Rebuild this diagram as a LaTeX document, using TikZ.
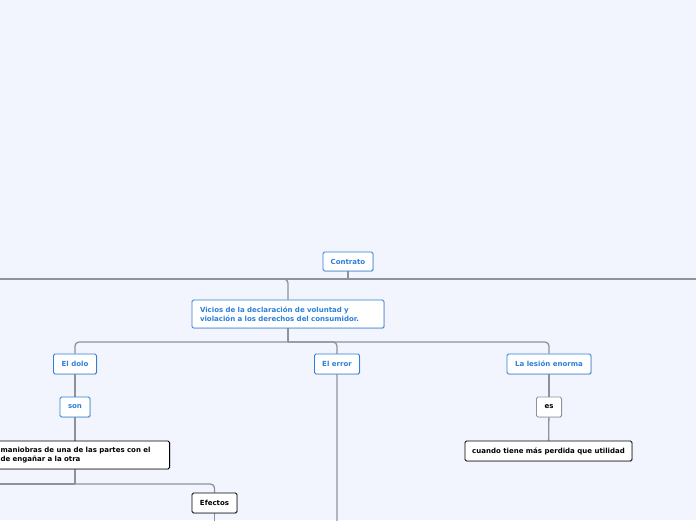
\documentclass[tikz,border=0pt]{standalone}
\usepackage{fontspec}
\setmainfont{DejaVu Sans}
\usepackage{xcolor}
\usepackage{tikz}
\usetikzlibrary{backgrounds,shadows}
\definecolor{paper}{HTML}{F2F5FE}
\definecolor{topicblue}{HTML}{2D7FDA}
\definecolor{linkgray}{HTML}{8E9299}

\begin{document}
\begin{tikzpicture}[x=1pt, y=-1pt,
                    font=\fontsize{7}{9}\selectfont\bfseries,
                    box/.style={draw, fill=white, rounded corners=1.5pt, line width=0.9pt,
                                inner sep=0pt, minimum height=20,
                                drop shadow={shadow xshift=0.8pt, shadow yshift=-0.8pt, opacity=0.25}},
                    bluebox/.style={box, draw=topicblue, text=topicblue},
                    blackbox/.style={box, draw=black, text=black},
                    graybox/.style={box, draw=linkgray, text=black},
                    link/.style={draw=linkgray, line width=1.3pt, rounded corners=4pt},
                    mainline/.style={draw=linkgray, line width=2pt}]
  \useasboundingbox (0,0) rectangle (696,520);

  \node[bluebox, minimum width=50, minimum height=19] (contrato) at (348,261.5) {Contrato};
  \node[bluebox, minimum width=192, minimum height=28, text width=176, align=left] (vicios) at (288,314)
    {Vicios de la declaración de voluntad y\\violación a los derechos del consumidor.};
  \node[bluebox, minimum width=43] (dolo) at (75,364) {El dolo};
  \node[bluebox, minimum width=45] (error) at (337,364) {El error};
  \node[bluebox, minimum width=84] (lesion) at (549,364) {La lesión enorma};
  \node[bluebox, minimum width=30] (son) at (75,407) {son};
  \node[graybox, minimum width=25] (es) at (549,407) {es};
  \node[blackbox, minimum width=167] (cuando) at (548.5,451) {cuando tiene más perdida que utilidad};
  \node[blackbox, anchor=east, minimum height=28, text width=165, inner xsep=4pt, align=left] (maniobras) at (170,455)
    {maniobras de una de las partes con el\\de engañar a la otra};
  \node[blackbox, minimum width=45] (efectos) at (214.5,503) {Efectos};

  \coordinate (mainL) at (0,279);
  \coordinate (mainR) at (696,279);
  \coordinate (bus1) at (288,342);
  \coordinate (bus2) at (75,484);
  \coordinate (bus2L) at (0,484);
  \coordinate (errend) at (337,522);
  \coordinate (efend) at (214.5,522);

  \begin{pgfonlayer}{background}
    \fill[paper] (0,0) rectangle (696,520);
    \draw[mainline] (mainL) -- (mainR);
    \draw[link] (contrato.south) -- (contrato.south |- mainL);
    \draw[link] (vicios.north) |- (mainL);
    \draw[link] (vicios.south) -- (bus1);
    \draw[link] (bus1) -| (dolo.north);
    \draw[link] (bus1) -| (lesion.north);
    \draw[link] (bus1) -| (errend);
    \draw[link] (dolo) -- (son);
    \draw[link] (son) -- (son |- maniobras.north);
    \draw[link] (bus2 |- maniobras.south) -- (bus2);
    \draw[link] (bus2) -- (bus2L);
    \draw[link] (bus2) -| (efectos.north);
    \draw[link] (efectos.south) -- (efend);
    \draw[link] (lesion) -- (es);
    \draw[link] (es) -- (cuando);
  \end{pgfonlayer}
\end{tikzpicture}
\end{document}
